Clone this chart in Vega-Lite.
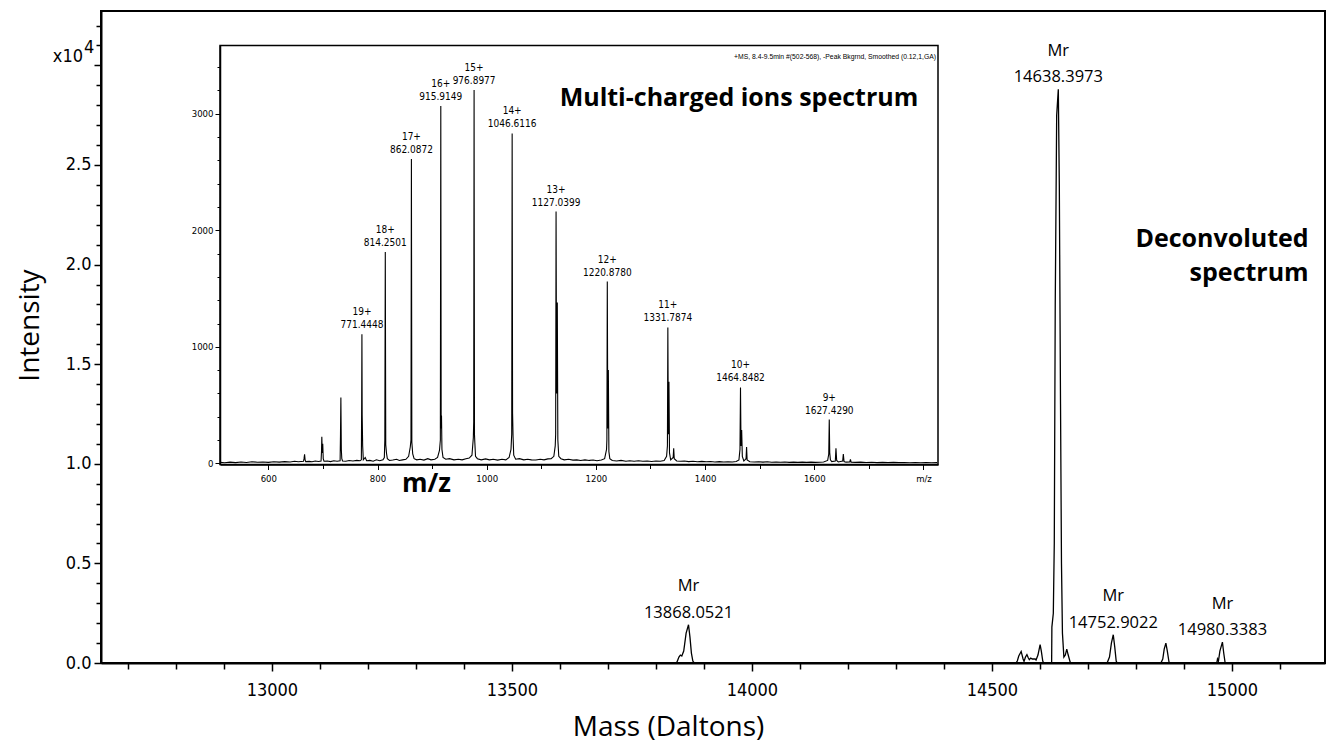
{
  "$schema": "https://vega.github.io/schema/vega-lite/v6.json",
  "width": 1224,
  "height": 652,
  "autosize": {"type": "none"},
  "padding": {"left": 101, "top": 11, "right": 3, "bottom": 85},
  "background": "white",
  "config": {
    "view": {"stroke": "black", "strokeWidth": 2},
    "text": {"color": "black"},
    "axis": {"labelOverlap": false, "labelFlush": false}
  },
  "datasets": {
    "main": [
      {"mass": 12644, "intensity": 0},
      {"mass": 13840, "intensity": 0},
      {"mass": 13844, "intensity": 0.005},
      {"mass": 13848, "intensity": 0.03},
      {"mass": 13851, "intensity": 0.04},
      {"mass": 13854, "intensity": 0.035},
      {"mass": 13858, "intensity": 0.06},
      {"mass": 13863, "intensity": 0.15},
      {"mass": 13868, "intensity": 0.192},
      {"mass": 13871, "intensity": 0.13},
      {"mass": 13874, "intensity": 0.05},
      {"mass": 13877, "intensity": 0.01},
      {"mass": 13880, "intensity": 0},
      {"mass": 14550, "intensity": 0},
      {"mass": 14553, "intensity": 0.01},
      {"mass": 14556, "intensity": 0.035},
      {"mass": 14561, "intensity": 0.058},
      {"mass": 14565, "intensity": 0.02},
      {"mass": 14567, "intensity": 0.008},
      {"mass": 14570, "intensity": 0.03},
      {"mass": 14573, "intensity": 0.042},
      {"mass": 14576, "intensity": 0.025},
      {"mass": 14578, "intensity": 0.017},
      {"mass": 14581, "intensity": 0.025},
      {"mass": 14584, "intensity": 0.02},
      {"mass": 14590, "intensity": 0.02},
      {"mass": 14592, "intensity": 0.015},
      {"mass": 14596, "intensity": 0.04},
      {"mass": 14600.5, "intensity": 0.092},
      {"mass": 14603, "intensity": 0.06},
      {"mass": 14606, "intensity": 0.01},
      {"mass": 14608, "intensity": 0},
      {"mass": 14624.5, "intensity": 0},
      {"mass": 14625, "intensity": 0.18},
      {"mass": 14628, "intensity": 0.25},
      {"mass": 14630, "intensity": 0.6},
      {"mass": 14632, "intensity": 1.8},
      {"mass": 14635, "intensity": 2.75},
      {"mass": 14638.4, "intensity": 2.88},
      {"mass": 14640.5, "intensity": 2.4},
      {"mass": 14643, "intensity": 1.3},
      {"mass": 14645, "intensity": 0.5},
      {"mass": 14647, "intensity": 0.15},
      {"mass": 14650, "intensity": 0.03},
      {"mass": 14653, "intensity": 0.04},
      {"mass": 14656, "intensity": 0.07},
      {"mass": 14659, "intensity": 0.04},
      {"mass": 14663, "intensity": 0.005},
      {"mass": 14665, "intensity": 0},
      {"mass": 14740, "intensity": 0},
      {"mass": 14745, "intensity": 0.03},
      {"mass": 14749, "intensity": 0.1},
      {"mass": 14752.9, "intensity": 0.142},
      {"mass": 14756, "intensity": 0.08},
      {"mass": 14759, "intensity": 0.01},
      {"mass": 14761, "intensity": 0},
      {"mass": 14852, "intensity": 0},
      {"mass": 14856, "intensity": 0.02},
      {"mass": 14859, "intensity": 0.07},
      {"mass": 14862.5, "intensity": 0.1},
      {"mass": 14865.5, "intensity": 0.06},
      {"mass": 14869, "intensity": 0.005},
      {"mass": 14871, "intensity": 0},
      {"mass": 14966, "intensity": 0},
      {"mass": 14969, "intensity": 0.005},
      {"mass": 14970, "intensity": 0.02},
      {"mass": 14972, "intensity": 0.01},
      {"mass": 14975, "intensity": 0.06},
      {"mass": 14980.3, "intensity": 0.105},
      {"mass": 14983, "intensity": 0.05},
      {"mass": 14986, "intensity": 0},
      {"mass": 15194, "intensity": 0}
    ],
    "mainLabels": [
      {"mass": 13868.0521, "intensity": 0.192, "label": "13868.0521"},
      {"mass": 14638.3973, "intensity": 2.88, "label": "14638.3973"},
      {"mass": 14752.9022, "intensity": 0.142, "label": "14752.9022"},
      {"mass": 14980.3383, "intensity": 0.105, "label": "14980.3383"}
    ],
    "ms": [
      {"mz": 512, "h": 8}, {"mz": 520, "h": 5}, {"mz": 530, "h": 10}, {"mz": 540, "h": 6},
      {"mz": 550, "h": 12}, {"mz": 560, "h": 7}, {"mz": 570, "h": 14}, {"mz": 580, "h": 9},
      {"mz": 590, "h": 11}, {"mz": 600, "h": 8}, {"mz": 610, "h": 13}, {"mz": 620, "h": 10},
      {"mz": 630, "h": 15}, {"mz": 640, "h": 12}, {"mz": 648, "h": 18}, {"mz": 655, "h": 14},
      {"mz": 660, "h": 16}, {"mz": 664.5, "h": 18}, {"mz": 665.4, "h": 40}, {"mz": 666.4, "h": 77},
      {"mz": 667.4, "h": 30}, {"mz": 668.5, "h": 15}, {"mz": 675, "h": 17}, {"mz": 680, "h": 14},
      {"mz": 686, "h": 20}, {"mz": 692, "h": 16}, {"mz": 696.6, "h": 20}, {"mz": 697.4, "h": 100},
      {"mz": 698.0, "h": 228}, {"mz": 698.8, "h": 90}, {"mz": 699.7, "h": 168}, {"mz": 700.6, "h": 40},
      {"mz": 702, "h": 18}, {"mz": 708, "h": 20}, {"mz": 714, "h": 15}, {"mz": 720, "h": 22},
      {"mz": 726, "h": 18}, {"mz": 731.5, "h": 22}, {"mz": 732.2, "h": 250}, {"mz": 732.9, "h": 566},
      {"mz": 733.7, "h": 120}, {"mz": 734.6, "h": 40}, {"mz": 736, "h": 20}, {"mz": 742, "h": 18},
      {"mz": 748, "h": 24}, {"mz": 755, "h": 20}, {"mz": 762, "h": 25}, {"mz": 768, "h": 22},
      {"mz": 770.4, "h": 30}, {"mz": 771.0, "h": 520}, {"mz": 771.4448, "h": 1107}, {"mz": 771.9, "h": 420},
      {"mz": 772.8, "h": 150}, {"mz": 774, "h": 30}, {"mz": 777.5, "h": 50}, {"mz": 780, "h": 22},
      {"mz": 786, "h": 25}, {"mz": 792, "h": 18}, {"mz": 798, "h": 30}, {"mz": 804, "h": 22},
      {"mz": 810, "h": 30}, {"mz": 812.5, "h": 50}, {"mz": 813.4, "h": 200}, {"mz": 814.2501, "h": 1814},
      {"mz": 815.1, "h": 160}, {"mz": 816.5, "h": 86}, {"mz": 818, "h": 40}, {"mz": 822, "h": 25},
      {"mz": 828, "h": 28}, {"mz": 835, "h": 35}, {"mz": 840, "h": 25}, {"mz": 846, "h": 30},
      {"mz": 852, "h": 35}, {"mz": 857, "h": 60}, {"mz": 860, "h": 140}, {"mz": 861.3, "h": 200},
      {"mz": 862.0872, "h": 2612}, {"mz": 862.9, "h": 180}, {"mz": 864.5, "h": 80}, {"mz": 867, "h": 40},
      {"mz": 872, "h": 30}, {"mz": 878, "h": 35}, {"mz": 885, "h": 28}, {"mz": 892, "h": 40},
      {"mz": 898, "h": 30}, {"mz": 905, "h": 35}, {"mz": 910, "h": 50}, {"mz": 913.5, "h": 110},
      {"mz": 915.1, "h": 200}, {"mz": 915.9149, "h": 3067}, {"mz": 916.6, "h": 300}, {"mz": 917.2, "h": 410},
      {"mz": 918, "h": 120}, {"mz": 920, "h": 50}, {"mz": 925, "h": 35}, {"mz": 932, "h": 40},
      {"mz": 940, "h": 30}, {"mz": 948, "h": 35}, {"mz": 955, "h": 30}, {"mz": 962, "h": 40},
      {"mz": 968, "h": 45}, {"mz": 973, "h": 70}, {"mz": 975.5, "h": 220}, {"mz": 976.2, "h": 357},
      {"mz": 976.8977, "h": 3205}, {"mz": 977.6, "h": 250}, {"mz": 978.3, "h": 174}, {"mz": 979.5, "h": 60},
      {"mz": 983, "h": 40}, {"mz": 990, "h": 30}, {"mz": 998, "h": 38}, {"mz": 1005, "h": 30},
      {"mz": 1012, "h": 35}, {"mz": 1020, "h": 28}, {"mz": 1028, "h": 35}, {"mz": 1035, "h": 30},
      {"mz": 1041, "h": 50}, {"mz": 1044.5, "h": 120}, {"mz": 1045.8, "h": 250}, {"mz": 1046.6116, "h": 2831},
      {"mz": 1047.4, "h": 429}, {"mz": 1048.3, "h": 228}, {"mz": 1049.5, "h": 70}, {"mz": 1053, "h": 35},
      {"mz": 1060, "h": 40}, {"mz": 1068, "h": 30}, {"mz": 1075, "h": 35}, {"mz": 1082, "h": 30},
      {"mz": 1090, "h": 28}, {"mz": 1098, "h": 35}, {"mz": 1105, "h": 30}, {"mz": 1112, "h": 38},
      {"mz": 1118, "h": 40}, {"mz": 1123, "h": 60}, {"mz": 1125.5, "h": 150}, {"mz": 1126.3, "h": 250},
      {"mz": 1127.0399, "h": 2161}, {"mz": 1128.0, "h": 600}, {"mz": 1129.3, "h": 1380}, {"mz": 1130.3, "h": 200},
      {"mz": 1132, "h": 60}, {"mz": 1136, "h": 40}, {"mz": 1142, "h": 30}, {"mz": 1150, "h": 35},
      {"mz": 1158, "h": 28}, {"mz": 1165, "h": 30}, {"mz": 1172, "h": 25}, {"mz": 1180, "h": 30},
      {"mz": 1188, "h": 25}, {"mz": 1195, "h": 28}, {"mz": 1202, "h": 22}, {"mz": 1210, "h": 28},
      {"mz": 1216, "h": 40}, {"mz": 1219.5, "h": 120}, {"mz": 1220.1, "h": 200}, {"mz": 1220.878, "h": 1560},
      {"mz": 1221.8, "h": 300}, {"mz": 1222.8, "h": 800}, {"mz": 1223.8, "h": 100}, {"mz": 1225.5, "h": 40},
      {"mz": 1230, "h": 25}, {"mz": 1238, "h": 20}, {"mz": 1246, "h": 25}, {"mz": 1255, "h": 18},
      {"mz": 1262, "h": 22}, {"mz": 1270, "h": 18}, {"mz": 1278, "h": 22}, {"mz": 1286, "h": 18},
      {"mz": 1294, "h": 20}, {"mz": 1302, "h": 16}, {"mz": 1310, "h": 20}, {"mz": 1318, "h": 18},
      {"mz": 1325, "h": 25}, {"mz": 1329.5, "h": 60}, {"mz": 1331.0, "h": 150}, {"mz": 1331.7874, "h": 1166},
      {"mz": 1332.7, "h": 250}, {"mz": 1333.8, "h": 700}, {"mz": 1334.8, "h": 90}, {"mz": 1337, "h": 30},
      {"mz": 1341.5, "h": 50}, {"mz": 1342.5, "h": 130}, {"mz": 1343.5, "h": 40}, {"mz": 1348, "h": 20},
      {"mz": 1355, "h": 18}, {"mz": 1362, "h": 20}, {"mz": 1370, "h": 15}, {"mz": 1378, "h": 18},
      {"mz": 1386, "h": 14}, {"mz": 1394, "h": 17}, {"mz": 1402, "h": 13}, {"mz": 1410, "h": 16},
      {"mz": 1418, "h": 12}, {"mz": 1426, "h": 15}, {"mz": 1434, "h": 12}, {"mz": 1442, "h": 14},
      {"mz": 1450, "h": 12}, {"mz": 1457, "h": 15}, {"mz": 1462, "h": 30}, {"mz": 1463.9, "h": 120},
      {"mz": 1464.8482, "h": 651}, {"mz": 1465.8, "h": 150}, {"mz": 1467, "h": 285}, {"mz": 1468.2, "h": 60},
      {"mz": 1471, "h": 20}, {"mz": 1475, "h": 40}, {"mz": 1476, "h": 140}, {"mz": 1477, "h": 30},
      {"mz": 1482, "h": 14}, {"mz": 1490, "h": 12}, {"mz": 1498, "h": 14}, {"mz": 1506, "h": 10},
      {"mz": 1514, "h": 13}, {"mz": 1522, "h": 9}, {"mz": 1530, "h": 12}, {"mz": 1538, "h": 9},
      {"mz": 1546, "h": 11}, {"mz": 1554, "h": 8}, {"mz": 1562, "h": 10}, {"mz": 1570, "h": 8},
      {"mz": 1578, "h": 10}, {"mz": 1586, "h": 8}, {"mz": 1594, "h": 10}, {"mz": 1602, "h": 8},
      {"mz": 1610, "h": 9}, {"mz": 1617, "h": 12}, {"mz": 1624.5, "h": 25}, {"mz": 1626.5, "h": 80},
      {"mz": 1627.429, "h": 376}, {"mz": 1628.3, "h": 90}, {"mz": 1629.5, "h": 30}, {"mz": 1632, "h": 15},
      {"mz": 1638.5, "h": 20}, {"mz": 1639.7, "h": 130}, {"mz": 1641, "h": 25}, {"mz": 1644, "h": 12},
      {"mz": 1652, "h": 20}, {"mz": 1653.2, "h": 80}, {"mz": 1654.5, "h": 15}, {"mz": 1658, "h": 10},
      {"mz": 1665, "h": 12}, {"mz": 1666.2, "h": 35}, {"mz": 1667.5, "h": 10}, {"mz": 1675, "h": 8},
      {"mz": 1685, "h": 10}, {"mz": 1695, "h": 7}, {"mz": 1705, "h": 9}, {"mz": 1715, "h": 6},
      {"mz": 1725, "h": 8}, {"mz": 1735, "h": 6}, {"mz": 1745, "h": 8}, {"mz": 1755, "h": 6},
      {"mz": 1765, "h": 7}, {"mz": 1775, "h": 5}, {"mz": 1785, "h": 7}, {"mz": 1795, "h": 5},
      {"mz": 1805, "h": 6}, {"mz": 1815, "h": 5}, {"mz": 1825, "h": 6}
    ],
    "msLabels": [
      {"mz": 771.4448, "h": 1107, "z": "19+", "m": "771.4448"},
      {"mz": 814.2501, "h": 1814, "z": "18+", "m": "814.2501"},
      {"mz": 862.0872, "h": 2612, "z": "17+", "m": "862.0872"},
      {"mz": 915.9149, "h": 3067, "z": "16+", "m": "915.9149"},
      {"mz": 976.8977, "h": 3205, "z": "15+", "m": "976.8977"},
      {"mz": 1046.6116, "h": 2831, "z": "14+", "m": "1046.6116"},
      {"mz": 1127.0399, "h": 2161, "z": "13+", "m": "1127.0399"},
      {"mz": 1220.878, "h": 1560, "z": "12+", "m": "1220.8780"},
      {"mz": 1331.7874, "h": 1166, "z": "11+", "m": "1331.7874"},
      {"mz": 1464.8482, "h": 651, "z": "10+", "m": "1464.8482"},
      {"mz": 1627.429, "h": 376, "z": "9+", "m": "1627.4290"}
    ],
    "one": [{}]
  },
  "layer": [
    {
      "layer": [
        {
          "data": {"name": "main"},
          "mark": {"type": "line", "color": "black", "strokeWidth": 1.3, "interpolate": "linear"},
          "encoding": {
            "x": {
              "field": "mass", "type": "quantitative",
              "scale": {"domain": [12644, 15194], "nice": false, "zero": false},
              "axis": {
                "orient": "bottom", "tickCount": 200,
                "values": [12700, 12800, 12900, 13000, 13100, 13200, 13300, 13400, 13500, 13600, 13700, 13800, 13900, 14000, 14100, 14200, 14300, 14400, 14500, 14600, 14700, 14800, 14900, 15000, 15100],
                "labelExpr": "datum.value % 500 == 0 ? format(datum.value, 'd') : ''",
                "labelFlush": false, "labelOverlap": false,
                "tickSize": {"condition": {"test": "datum.value % 500 == 0", "value": 8}, "value": 6},
                "tickColor": "black", "tickWidth": 1.5,
                "domainColor": "black", "domainWidth": 2,
                "labelFont": "DejaVu Sans Condensed",
                "labelFontSize": 18, "labelColor": "black", "labelPadding": 10,
                "grid": false,
                "title": "Mass (Daltons)",
                "titleFont": "Open Sans", "titleFontSize": 28, "titleFontWeight": "normal", "titleColor": "black",
                "titleX": 567, "titleY": 64, "titleBaseline": "middle", "titleAlign": "center"
              }
            },
            "y": {
              "field": "intensity", "type": "quantitative",
              "scale": {"domain": [0, 3.273], "nice": false, "zero": false},
              "axis": {
                "orient": "left", "tickCount": 200,
                "values": [0, 0.1, 0.2, 0.3, 0.4, 0.5, 0.6, 0.7, 0.8, 0.9, 1, 1.1, 1.2, 1.3, 1.4, 1.5, 1.6, 1.7, 1.8, 1.9, 2, 2.1, 2.2, 2.3, 2.4, 2.5, 2.6, 2.7, 2.8, 2.9, 3, 3.1, 3.2],
                "labelExpr": "(abs(datum.value * 2 - round(datum.value * 2)) < 0.001 && datum.value < 2.9) ? format(datum.value, '.1f') : ''",
                "labelOverlap": false, "labelFlush": false,
                "tickSize": {"condition": {"test": "abs(datum.value * 2 - round(datum.value * 2)) < 0.001", "value": 7}, "value": 5},
                "tickColor": "black", "tickWidth": 1.5,
                "domainColor": "black", "domainWidth": 2,
                "labelFont": "DejaVu Sans Condensed",
                "labelFontSize": 18, "labelColor": "black", "labelPadding": 3,
                "grid": false,
                "title": "Intensity",
                "titleFont": "Open Sans", "titleFontSize": 28, "titleFontWeight": "normal", "titleColor": "black",
                "titleX": -71, "titleY": 314, "titleBaseline": "middle", "titleAlign": "center", "titleAngle": -90
              }
            }
          }
        },
        {
          "data": {"name": "mainLabels"},
          "mark": {"type": "text", "font": "Open Sans", "fontSize": 16.5, "align": "center", "baseline": "alphabetic", "dy": -7, "color": "black"},
          "encoding": {
            "x": {"field": "mass", "type": "quantitative"},
            "y": {"field": "intensity", "type": "quantitative"},
            "text": {"field": "label"}
          }
        },
        {
          "data": {"name": "mainLabels"},
          "mark": {"type": "text", "font": "Open Sans", "fontSize": 16.5, "align": "center", "baseline": "alphabetic", "dy": -33.5, "color": "black"},
          "encoding": {
            "x": {"field": "mass", "type": "quantitative"},
            "y": {"field": "intensity", "type": "quantitative"},
            "text": {"value": "Mr"}
          }
        },
        {
          "data": {"name": "one"},
          "mark": {"type": "text", "font": "DejaVu Sans Condensed", "fontSize": 18, "align": "right", "baseline": "alphabetic", "dx": -18, "dy": -3.5, "color": "black"},
          "encoding": {
            "x": {"datum": 12644, "type": "quantitative"},
            "y": {"datum": 3.0, "type": "quantitative"},
            "text": {"value": "x10"}
          }
        },
        {
          "data": {"name": "one"},
          "mark": {"type": "text", "font": "DejaVu Sans Condensed", "fontSize": 18, "align": "left", "baseline": "alphabetic", "dx": -17, "dy": -12.5, "color": "black"},
          "encoding": {
            "x": {"datum": 12644, "type": "quantitative"},
            "y": {"datum": 3.0, "type": "quantitative"},
            "text": {"value": "4"}
          }
        },
        {
          "data": {"name": "one"},
          "mark": {"type": "text", "font": "Open Sans", "fontSize": 25, "fontWeight": "bold", "align": "right", "baseline": "alphabetic", "color": "black"},
          "encoding": {
            "x": {"datum": 15160, "type": "quantitative"},
            "y": {"datum": 2.089, "type": "quantitative"},
            "text": {"value": "Deconvoluted"}
          }
        },
        {
          "data": {"name": "one"},
          "mark": {"type": "text", "font": "Open Sans", "fontSize": 25, "fontWeight": "bold", "align": "right", "baseline": "alphabetic", "color": "black"},
          "encoding": {
            "x": {"datum": 15160, "type": "quantitative"},
            "y": {"datum": 1.918, "type": "quantitative"},
            "text": {"value": "spectrum"}
          }
        }
      ]
    },
    {
      "layer": [
        {
          "data": {"name": "one"},
          "mark": {"type": "rect", "fill": "white", "fillOpacity": 0, "stroke": "black", "strokeWidth": 1.5},
          "encoding": {
            "x": {"datum": 511.5, "type": "quantitative"},
            "x2": {"datum": 1826.6},
            "y": {"datum": -10, "type": "quantitative"},
            "y2": {"datum": 3586}
          }
        },
        {
          "data": {"name": "ms"},
          "mark": {"type": "line", "color": "black", "strokeWidth": 1.1, "interpolate": "linear"},
          "encoding": {
            "x": {
              "field": "mz", "type": "quantitative",
              "scale": {"domain": [511.5, 1826.6], "range": [119, 837], "nice": false, "zero": false},
              "axis": {
                "orient": "bottom", "offset": -198.5, "zindex": 1, "tickCount": 200,
                "values": [600, 700, 800, 900, 1000, 1100, 1200, 1300, 1400, 1500, 1600, 1700, 1800],
                "labelExpr": "datum.value == 1800 ? 'm/z' : (datum.value % 200 == 0 ? format(datum.value, 'd') : '')",
                "labelFlush": false, "labelOverlap": false,
                "tickSize": {"condition": {"test": "datum.value % 200 == 0", "value": 5}, "value": 4},
                "tickColor": "black", "tickWidth": 1,
                "domainColor": "black", "domainWidth": 1.5,
                "labelFont": "DejaVu Sans Condensed",
                "labelFontSize": 9.5, "labelColor": "black", "labelPadding": 4,
                "grid": false,
                "title": "m/z",
                "titleFont": "Open Sans", "titleFontSize": 26, "titleFontWeight": "bold", "titleColor": "black",
                "titleX": 325, "titleY": 18.5, "titleBaseline": "middle", "titleAlign": "center"
              }
            },
            "y": {
              "field": "h", "type": "quantitative",
              "scale": {"domain": [-10, 3586], "range": [453.5, 34.5], "nice": false, "zero": false},
              "axis": {
                "orient": "left", "offset": -119, "zindex": 1, "tickCount": 200,
                "values": [0, 200, 400, 600, 800, 1000, 1200, 1400, 1600, 1800, 2000, 2200, 2400, 2600, 2800, 3000, 3200, 3400],
                "labelExpr": "datum.value % 1000 == 0 ? format(datum.value, 'd') : ''",
                "labelFlush": false, "labelOverlap": false,
                "tickSize": {"condition": {"test": "datum.value % 1000 == 0", "value": 5}, "value": 3},
                "tickColor": "black", "tickWidth": 1,
                "domainColor": "black", "domainWidth": 1.5,
                "labelFont": "DejaVu Sans Condensed",
                "labelFontSize": 9.5, "labelColor": "black", "labelPadding": 2,
                "grid": false,
                "title": null
              }
            }
          }
        },
        {
          "data": {"name": "msLabels"},
          "mark": {"type": "text", "font": "DejaVu Sans Condensed", "fontSize": 10, "align": "center", "baseline": "alphabetic", "dy": -6, "color": "black"},
          "encoding": {
            "x": {"field": "mz", "type": "quantitative"},
            "y": {"field": "h", "type": "quantitative"},
            "text": {"field": "m"}
          }
        },
        {
          "data": {"name": "msLabels"},
          "mark": {"type": "text", "font": "DejaVu Sans Condensed", "fontSize": 10, "align": "center", "baseline": "alphabetic", "dy": -19, "color": "black"},
          "encoding": {
            "x": {"field": "mz", "type": "quantitative"},
            "y": {"field": "h", "type": "quantitative"},
            "text": {"field": "z"}
          }
        },
        {
          "data": {"name": "one"},
          "mark": {"type": "text", "font": "Liberation Sans", "fontSize": 6.8, "align": "right", "baseline": "alphabetic", "color": "black"},
          "encoding": {
            "x": {"datum": 1823, "type": "quantitative"},
            "y": {"datum": 3470, "type": "quantitative"},
            "text": {"value": "+MS, 8.4-9.5min #(502-568), -Peak Bkgrnd, Smoothed (0.12,1,GA)"}
          }
        },
        {
          "data": {"name": "one"},
          "mark": {"type": "text", "font": "Open Sans", "fontSize": 25, "fontWeight": "bold", "align": "center", "baseline": "alphabetic", "color": "black"},
          "encoding": {
            "x": {"datum": 1462, "type": "quantitative"},
            "y": {"datum": 3067, "type": "quantitative"},
            "text": {"value": "Multi-charged ions spectrum"}
          }
        }
      ]
    }
  ],
  "resolve": {
    "scale": {"x": "independent", "y": "independent"},
    "axis": {"x": "independent", "y": "independent"}
  }
}
